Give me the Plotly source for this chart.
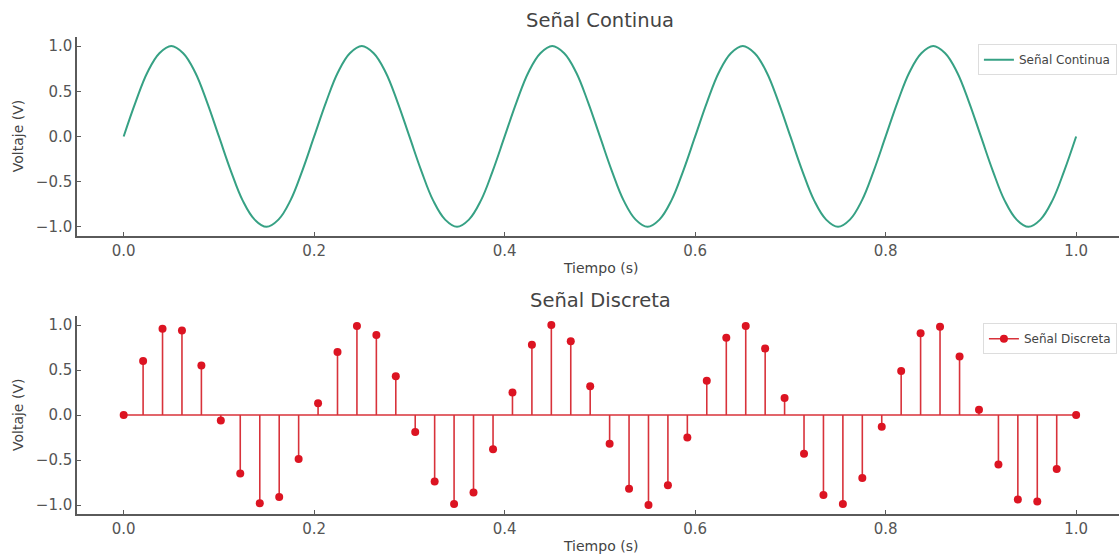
import plotly.graph_objects as go

# ---- data ----
t_cont = [0.0, 0.0125, 0.025, 0.0375, 0.05, 0.0625, 0.075, 0.0875,
          0.1, 0.1125, 0.125, 0.1375, 0.15, 0.1625, 0.175, 0.1875,
          0.2, 0.2125, 0.225, 0.2375, 0.25, 0.2625, 0.275, 0.2875,
          0.3, 0.3125, 0.325, 0.3375, 0.35, 0.3625, 0.375, 0.3875,
          0.4, 0.4125, 0.425, 0.4375, 0.45, 0.4625, 0.475, 0.4875,
          0.5, 0.5125, 0.525, 0.5375, 0.55, 0.5625, 0.575, 0.5875,
          0.6, 0.6125, 0.625, 0.6375, 0.65, 0.6625, 0.675, 0.6875,
          0.7, 0.7125, 0.725, 0.7375, 0.75, 0.7625, 0.775, 0.7875,
          0.8, 0.8125, 0.825, 0.8375, 0.85, 0.8625, 0.875, 0.8875,
          0.9, 0.9125, 0.925, 0.9375, 0.95, 0.9625, 0.975, 0.9875,
          1.0]
v_cont = [0.0, 0.38, 0.71, 0.92, 1.0, 0.92, 0.71, 0.38,
          0.0, -0.38, -0.71, -0.92, -1.0, -0.92, -0.71, -0.38,
          0.0, 0.38, 0.71, 0.92, 1.0, 0.92, 0.71, 0.38,
          0.0, -0.38, -0.71, -0.92, -1.0, -0.92, -0.71, -0.38,
          0.0, 0.38, 0.71, 0.92, 1.0, 0.92, 0.71, 0.38,
          0.0, -0.38, -0.71, -0.92, -1.0, -0.92, -0.71, -0.38,
          0.0, 0.38, 0.71, 0.92, 1.0, 0.92, 0.71, 0.38,
          0.0, -0.38, -0.71, -0.92, -1.0, -0.92, -0.71, -0.38,
          0.0, 0.38, 0.71, 0.92, 1.0, 0.92, 0.71, 0.38,
          0.0, -0.38, -0.71, -0.92, -1.0, -0.92, -0.71, -0.38,
          0.0]

t_disc = [0.0, 0.0204, 0.0408, 0.0612, 0.0816, 0.1020, 0.1224, 0.1429, 0.1633, 0.1837,
          0.2041, 0.2245, 0.2449, 0.2653, 0.2857, 0.3061, 0.3265, 0.3469, 0.3673, 0.3878,
          0.4082, 0.4286, 0.4490, 0.4694, 0.4898, 0.5102, 0.5306, 0.5510, 0.5714, 0.5918,
          0.6122, 0.6327, 0.6531, 0.6735, 0.6939, 0.7143, 0.7347, 0.7551, 0.7755, 0.7959,
          0.8163, 0.8367, 0.8571, 0.8776, 0.8980, 0.9184, 0.9388, 0.9592, 0.9796, 1.0]
v_disc = [0.0, 0.60, 0.96, 0.94, 0.55, -0.06, -0.65, -0.98, -0.91, -0.49,
          0.13, 0.70, 0.99, 0.89, 0.43, -0.19, -0.74, -0.99, -0.86, -0.38,
          0.25, 0.78, 1.0, 0.82, 0.32, -0.32, -0.82, -1.0, -0.78, -0.25,
          0.38, 0.86, 0.99, 0.74, 0.19, -0.43, -0.89, -0.99, -0.70, -0.13,
          0.49, 0.91, 0.98, 0.65, 0.06, -0.55, -0.94, -0.96, -0.60, 0.0]

x_ticks = [0.0, 0.2, 0.4, 0.6, 0.8, 1.0]
x_labels = ["0.0", "0.2", "0.4", "0.6", "0.8", "1.0"]
y_ticks = [-1.0, -0.5, 0.0, 0.5, 1.0]
y_labels = ["\u22121.0", "\u22120.5", "0.0", "0.5", "1.0"]

# ---- styles ----
GREEN = "#36a184"
STEM = "#d8323a"
DOT = "#dc1422"
AXC = "#5a5a5a"
TXT = "#444444"
FONT = "DejaVu Sans"

fig = go.Figure()

fig.add_trace(go.Scatter(x=t_cont, y=v_cont, mode="lines",
                         line=dict(color=GREEN, width=2, shape="spline", smoothing=1.1),
                         name="Señal Continua", xaxis="x", yaxis="y", legend="legend"))

# stems
sx, sy = [], []
for t, v in zip(t_disc, v_disc):
    sx += [t, t, None]
    sy += [0, v, None]
fig.add_trace(go.Scatter(x=sx, y=sy, mode="lines", line=dict(color=STEM, width=1.6),
                         showlegend=False, xaxis="x2", yaxis="y2", hoverinfo="skip"))
# baseline
fig.add_trace(go.Scatter(x=[t_disc[0], t_disc[-1]], y=[0, 0], mode="lines", line=dict(color=STEM, width=1.6),
                         showlegend=False, xaxis="x2", yaxis="y2", hoverinfo="skip"))
# markers
fig.add_trace(go.Scatter(x=t_disc, y=v_disc, mode="markers", marker=dict(color=DOT, size=8),
                         showlegend=False, xaxis="x2", yaxis="y2"))
# legend entry
fig.add_trace(go.Scatter(x=[None], y=[None], mode="lines+markers", line=dict(color=STEM, width=1.6),
                         marker=dict(color=DOT, size=8), name="Señal Discreta",
                         xaxis="x2", yaxis="y2", legend="legend2"))

axis_common = dict(showline=True, linecolor=AXC, linewidth=1.5, ticks="inside", ticklen=4,
                   tickcolor=AXC, tickwidth=1, showgrid=False, zeroline=False,
                   tickfont=dict(family=FONT, size=15, color="#555555"))

xr = [-0.049, 1.045]
yr = [-1.1, 1.1]

fig.update_layout(
    width=1119, height=556,
    margin=dict(l=77, r=0, t=37, b=42),
    paper_bgcolor="white", plot_bgcolor="white",
    font=dict(family=FONT, color=TXT),
    xaxis=dict(domain=[0, 1], range=xr, anchor="y", tickvals=x_ticks, ticktext=x_labels, **axis_common),
    yaxis=dict(domain=[0.583, 1.0], range=yr, anchor="x", tickvals=y_ticks, ticktext=y_labels, **axis_common),
    xaxis2=dict(domain=[0, 1], range=xr, anchor="y2", tickvals=x_ticks, ticktext=x_labels, **axis_common),
    yaxis2=dict(domain=[0.0, 0.415], range=yr, anchor="x2", tickvals=y_ticks, ticktext=y_labels, **axis_common),
    legend=dict(x=0.998, y=0.985, xanchor="right", yanchor="top", bgcolor="white",
                bordercolor="#dddddd", borderwidth=1, font=dict(family=FONT, size=12, color=TXT)),
    legend2=dict(x=0.998, y=0.400, xanchor="right", yanchor="top", bgcolor="white",
                 bordercolor="#dddddd", borderwidth=1, font=dict(family=FONT, size=12, color=TXT)),
    showlegend=True,
)

ann = [
    dict(text="Señal Continua", x=0.502, y=1.0356, size=19.5),
    dict(text="Señal Discreta", x=0.502, y=0.4486, size=19.5),
    dict(text="Tiempo (s)", x=0.502, y=0.516, size=14),
    dict(text="Tiempo (s)", x=0.502, y=-0.067, size=14),
]
for a in ann:
    fig.add_annotation(text=a["text"], x=a["x"], y=a["y"], xref="paper", yref="paper",
                       xanchor="center", yanchor="middle", showarrow=False,
                       font=dict(family=FONT, size=a["size"], color=TXT))
for yy in [0.792, 0.2075]:
    fig.add_annotation(text="Voltaje (V)", x=-0.0566, y=yy, xref="paper", yref="paper",
                       xanchor="center", yanchor="middle", showarrow=False, textangle=-90,
                       font=dict(family=FONT, size=14, color=TXT))

fig.write_html("out.html", config={"displayModeBar": False},
               post_script="document.body.style.margin='0';document.body.style.overflow='hidden';")
